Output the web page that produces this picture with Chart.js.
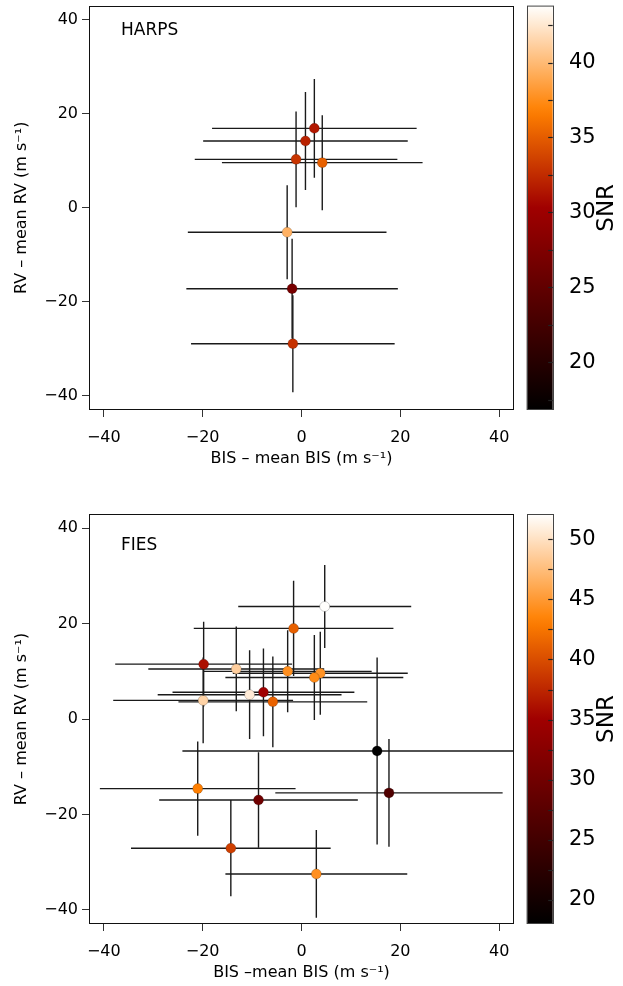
<!DOCTYPE html>
<html><head><meta charset="utf-8">
<script src="https://cdn.jsdelivr.net/npm/chart.js@4.4.0/dist/chart.umd.min.js"></script>
<style>
html,body{margin:0;padding:0;background:#fff;}
#wrap{position:relative;width:623px;height:986px;overflow:hidden;background:#fff;}
.box{position:absolute;left:0;width:623px;}
</style></head><body>
<div id="wrap">
<div class="box" style="top:0;height:500px"><canvas id="c1" width="623" height="500"></canvas></div>
<div class="box" style="top:500px;height:486px"><canvas id="c2" width="623" height="486"></canvas></div>
</div>
<script>
// ---------- data ----------
const axisTicks = [-40, -20, 0, 20, 40];

const harpsBIS    = [2.6, 0.8, -1.1, 4.2, -2.9, -1.9, -1.75];
const harpsRV     = [16.9, 14.2, 10.3, 9.6, -5.2, -17.2, -28.9];
const harpsBISerr = [20.7, 20.7, 20.5, 20.3, 20.1, 21.4, 20.6];
const harpsRVerr  = [10.5, 10.4, 10.2, 10.1, 10.0, 10.6, 10.3];
const harpsSNR    = [31.5, 32.0, 33.0, 35.2, 39.5, 26.9, 32.8];
const harpsSnrRange = [16.8, 43.8];
const harpsSnrTicks = [17.5, 20, 22.5, 25, 27.5, 30, 32.5, 35, 37.5, 40, 42.5];

const fiesBIS    = [4.7, -1.6, -19.8, -13.2, -2.8, 3.8, 2.6, -19.9, -10.5, -7.7, -5.8, 15.3, 17.7, -21.0, -8.7, -14.3, 3.0];
const fiesRV     = [23.6, 19.0, 11.5, 10.5, 10.0, 9.6, 8.7, 3.9, 5.1, 5.6, 3.6, -6.7, -15.5, -14.6, -17.0, -27.1, -32.5];
const fiesBISerr = [17.5, 20.2, 17.9, 17.8, 17.0, 17.7, 18.0, 18.2, 18.6, 18.4, 19.1, 39.4, 23.0, 19.8, 20.1, 20.2, 18.4];
const fiesRVerr  = [8.7, 10.0, 8.9, 8.9, 8.6, 8.7, 8.9, 9.0, 9.3, 9.2, 9.5, 19.6, 11.3, 9.9, 10.0, 10.1, 9.2];
const fiesSNR    = [52.0, 41.2, 36.0, 48.7, 44.3, 44.5, 44.0, 49.0, 50.7, 35.0, 41.3, 18.0, 26.5, 43.2, 29.9, 39.1, 44.3];
const fiesSnrRange = [18.0, 52.1];
const fiesSnrTicks = [20, 22.5, 25, 27.5, 30, 32.5, 35, 37.5, 40, 42.5, 45, 47.5, 50];

// colour map (fraction -> colour)
const cmapStops  = [0, 0.5, 0.74, 1];
const cmapColors = ['#000000', '#a00000', '#ff8000', '#ffffff'];

function hex2rgb(h){return [parseInt(h.slice(1,3),16),parseInt(h.slice(3,5),16),parseInt(h.slice(5,7),16)];}
function snrColor(v, mn, mx){
  let f = (v - mn) / (mx - mn); f = Math.max(0, Math.min(1, f));
  for (let i = 1; i < cmapStops.length; i++){
    if (f <= cmapStops[i]){
      const t = (f - cmapStops[i-1]) / (cmapStops[i] - cmapStops[i-1]);
      const a = hex2rgb(cmapColors[i-1]), b = hex2rgb(cmapColors[i]);
      const c = a.map((x,k)=>Math.round(x + (b[k]-x)*t));
      return 'rgb(' + c.join(',') + ')';
    }
  }
  return cmapColors[cmapColors.length-1];
}

Chart.defaults.font.family = "'DejaVu Sans', 'Liberation Sans', sans-serif";
Chart.defaults.color = '#000';

const fmt = v => (v < 0 ? '\u2212' + Math.abs(v) : String(v));
const noPad = s => { s.paddingTop = 0; s.paddingBottom = 0; s.paddingLeft = 0; s.paddingRight = 0; };

const panelPlugin = {
  id: 'panel',
  beforeDatasetsDraw(chart){
    const {ctx, chartArea: a, scales: {x, y}} = chart;
    const ds = chart.data.datasets[0];
    ctx.save();
    ctx.beginPath(); ctx.rect(a.left, a.top, a.right - a.left, a.bottom - a.top); ctx.clip();
    ctx.strokeStyle = '#1a1a1a'; ctx.lineWidth = 1.4;
    ds.data.forEach((p, i) => {
      const px = x.getPixelForValue(p.x), py = y.getPixelForValue(p.y);
      ctx.beginPath();
      ctx.moveTo(x.getPixelForValue(p.x - ds.xErr[i]), py);
      ctx.lineTo(x.getPixelForValue(p.x + ds.xErr[i]), py);
      ctx.moveTo(px, y.getPixelForValue(p.y - ds.yErr[i]));
      ctx.lineTo(px, y.getPixelForValue(p.y + ds.yErr[i]));
      ctx.stroke();
    });
    ctx.restore();
  },
  afterDraw(chart, args, opts){
    const {ctx, chartArea: a} = chart;
    ctx.save();
    ctx.strokeStyle = '#111'; ctx.lineWidth = 1;
    ctx.strokeRect(Math.round(a.left) + 0.5, Math.round(a.top) + 0.5,
                   Math.round(a.right - a.left) - 1, Math.round(a.bottom - a.top) - 1);
    ctx.font = '17px "DejaVu Sans"'; ctx.fillStyle = '#000';
    ctx.textBaseline = 'middle'; ctx.textAlign = 'left';
    ctx.fillText(opts.label, opts.labelX, opts.labelY);

    const cb = chart.scales.cb;
    const x0 = cb.left + 12.7, x1 = cb.left + 38.7;
    const g = ctx.createLinearGradient(0, cb.bottom, 0, cb.top);
    const span = 40;
    for (let k = 0; k <= span; k++){
      const f = k / span;
      g.addColorStop(f, snrColor(cb.min + f * (cb.max - cb.min), cb.min, cb.max));
    }
    ctx.fillStyle = g;
    ctx.fillRect(x0, cb.top, x1 - x0, cb.bottom - cb.top);
    ctx.strokeStyle = '#444'; ctx.lineWidth = 1;
    ctx.strokeRect(Math.round(x0) + 0.5, cb.top + 0.5, Math.round(x1 - x0), cb.bottom - cb.top - 1);
    ctx.strokeStyle = '#222'; ctx.lineWidth = 1.2;
    cb.ticks.forEach(t => {
      const py = Math.round(cb.getPixelForValue(t.value)) + 0.5;
      ctx.beginPath(); ctx.moveTo(x1 - 4.5, py); ctx.lineTo(x1, py); ctx.stroke();
    });
    ctx.translate(607, (cb.top + cb.bottom) / 2);
    ctx.rotate(-Math.PI / 2);
    ctx.font = '23px "DejaVu Sans"'; ctx.textAlign = 'center'; ctx.textBaseline = 'middle';
    ctx.fillStyle = '#000';
    ctx.fillText('SNR', 0, 0);
    ctx.restore();
  }
};

function makeChart(canvas, cfg){
  return new Chart(canvas, {
    type: 'scatter',
    data: { datasets: [{
      data: cfg.bis.map((b, i) => ({x: b, y: cfg.rv[i]})),
      xErr: cfg.bisErr, yErr: cfg.rvErr,
      pointRadius: 5, pointHoverRadius: 5,
      pointBackgroundColor: cfg.snr.map(v => snrColor(v, cfg.snrRange[0], cfg.snrRange[1])),
      pointBorderColor: 'rgba(0,0,0,0.3)', pointBorderWidth: 0.6
    }]},
    options: {
      responsive: false, animation: false, events: [],
      layout: { padding: { top: cfg.padTop, left: 0, right: 0, bottom: 0 } },
      plugins: { legend: {display: false}, tooltip: {enabled: false},
        panel: { label: cfg.label, labelX: 121, labelY: cfg.labelY } },
      scales: {
        x: {
          type: 'linear', position: 'bottom', min: -43, max: 43,
          afterBuildTicks: s => { s.ticks = axisTicks.map(v => ({value: v})); },
          afterFit: s => { s.height = cfg.xAxisH; noPad(s); },
          grid: { drawOnChartArea: false, drawTicks: true, tickLength: 7, color: '#333', lineWidth: 1 },
          border: { display: false },
          ticks: { font: {size: 16}, color: '#000', padding: 11, maxRotation: 0, autoSkip: false, callback: fmt },
          title: { display: true, text: cfg.xTitle, font: {size: 16}, color: '#000',
                   padding: { top: 0, bottom: cfg.xTitlePad } }
        },
        y: {
          type: 'linear', position: 'left', min: -43, max: 43,
          afterBuildTicks: s => { s.ticks = axisTicks.map(v => ({value: v})); },
          afterFit: s => { s.width = 89; noPad(s); },
          grid: { drawOnChartArea: false, drawTicks: true, tickLength: 7, color: '#333', lineWidth: 1 },
          border: { display: false },
          ticks: { font: {size: 16}, color: '#000', padding: 4, autoSkip: false, callback: fmt },
          title: { display: true, text: 'RV \u2013 mean RV (m s\u207B\u00B9)', font: {size: 16}, color: '#000',
                   padding: { top: 12, bottom: 0 } }
        },
        cb: {
          type: 'linear', axis: 'y', position: 'right', min: cfg.snrRange[0], max: cfg.snrRange[1],
          afterBuildTicks: s => { s.ticks = cfg.snrTicks.map(v => ({value: v})); },
          afterFit: s => { s.width = 109; noPad(s); },
          grid: { display: false, drawOnChartArea: false },
          border: { display: false },
          ticks: { font: {size: 21}, color: '#000', padding: 47, autoSkip: false,
                   callback: v => (v % 5 === 0 ? String(v) : '') }
        }
      }
    },
    plugins: [panelPlugin]
  });
}

makeChart(document.getElementById('c1'), {
  bis: harpsBIS, rv: harpsRV, bisErr: harpsBISerr, rvErr: harpsRVerr, snr: harpsSNR,
  snrRange: harpsSnrRange, snrTicks: harpsSnrTicks, label: 'HARPS', labelY: 31,
  padTop: 1, xAxisH: 90, xTitlePad: 32, xTitle: 'BIS \u2013 mean BIS (m s\u207B\u00B9)'
});
makeChart(document.getElementById('c2'), {
  bis: fiesBIS, rv: fiesRV, bisErr: fiesBISerr, rvErr: fiesRVerr, snr: fiesSNR,
  snrRange: fiesSnrRange, snrTicks: fiesSnrTicks, label: 'FIES', labelY: 46,
  padTop: 14, xAxisH: 62, xTitlePad: 4, xTitle: 'BIS \u2013mean BIS (m s\u207B\u00B9)'
});
</script>
</body></html>
